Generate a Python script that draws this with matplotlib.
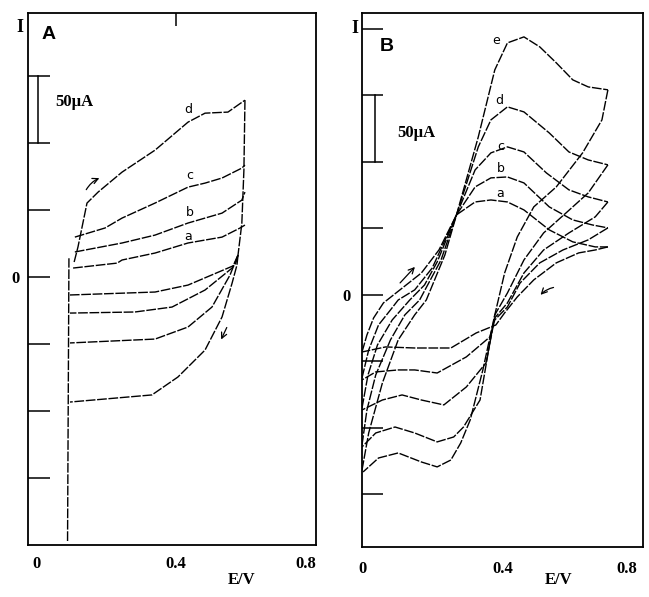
import matplotlib.pyplot as plt
import matplotlib.transforms as mtransforms

# ---------------- Panel A: CVs a-d (E in V, I in uA) ----------------
A_fwd_a_E = [0.104, 0.231, 0.245, 0.340, 0.435, 0.533, 0.585, 0.599]
A_fwd_a_I = [6.7, 10.4, 12.7, 17.9, 25.4, 29.8, 36.6, 38.8]
A_fwd_b_E = [0.109, 0.245, 0.340, 0.435, 0.533, 0.590, 0.599]
A_fwd_b_I = [18.7, 25.4, 31.3, 40.3, 47.7, 57.4, 63.4]
A_fwd_c_E = [0.109, 0.196, 0.245, 0.340, 0.435, 0.484, 0.533, 0.590, 0.599]
A_fwd_c_I = [29.8, 36.6, 44.0, 55.2, 67.1, 70.1, 73.9, 81.3, 83.6]
A_fwd_d_E = [0.107, 0.118, 0.144, 0.176, 0.245, 0.340, 0.435, 0.484, 0.550, 0.599]
A_fwd_d_I = [11.2, 22.4, 55.2, 63.4, 78.3, 94.7, 115.6, 122.3, 123.1, 132.0]

A_rev_a_E = [0.579, 0.571, 0.435, 0.340, 0.095]
A_rev_a_I = [16.4, 9.0, -6.0, -11.2, -13.4]
A_rev_b_E = [0.579, 0.562, 0.484, 0.389, 0.282, 0.095]
A_rev_b_I = [16.4, 6.7, -9.7, -22.4, -26.1, -26.9]
A_rev_c_E = [0.579, 0.556, 0.504, 0.435, 0.340, 0.095]
A_rev_c_I = [16.4, 1.5, -22.4, -37.3, -46.3, -49.2]
A_rev_d_E = [0.579, 0.576, 0.562, 0.533, 0.484, 0.406, 0.331, 0.095]
A_rev_d_I = [16.4, 9.0, -4.5, -29.8, -54.5, -74.6, -88.0, -93.3]

A_left_E = [0.088, 0.092]
A_left_I = [-197, 14]
A_right_E = [0.599, 0.596, 0.590, 0.579]
A_right_I = [132, 80, 40, 16.4]

A_labels = ['a', 'b', 'c', 'd']
A_label_E = [0.435, 0.441, 0.441, 0.435]
A_label_I = [30.6, 48.5, 76.1, 125.3]

# ---------------- Panel B: CVs a-e ----------------
B_fwd_a_E = [0, 0.014, 0.033, 0.061, 0.108, 0.169, 0.219, 0.269, 0.322, 0.367, 0.414, 0.461, 0.533, 0.600, 0.664, 0.700]
B_fwd_a_I = [-42.9, -30.1, -17.3, -6.0, 3.8, 16.5, 33.8, 60.2, 69.9, 71.4, 69.9, 63.9, 48.9, 39.9, 36.1, 36.1]
B_fwd_b_E = [0, 0.019, 0.047, 0.081, 0.103, 0.150, 0.200, 0.269, 0.322, 0.367, 0.414, 0.461, 0.533, 0.600, 0.656, 0.700]
B_fwd_b_I = [-62.4, -41.4, -22.6, -11.3, -3.8, 3.8, 20.3, 60.2, 81.2, 88.0, 88.7, 84.2, 66.2, 56.4, 52.6, 50.4]
B_fwd_c_E = [0, 0.017, 0.044, 0.086, 0.136, 0.178, 0.214, 0.269, 0.322, 0.367, 0.414, 0.461, 0.525, 0.589, 0.644, 0.700]
B_fwd_c_I = [-85.0, -60.2, -37.6, -18.8, -3.8, 7.5, 24.8, 60.2, 94.0, 106.8, 111.3, 107.5, 91.7, 79.0, 73.7, 69.9]
B_fwd_d_E = [0, 0.014, 0.039, 0.081, 0.122, 0.164, 0.225, 0.269, 0.331, 0.367, 0.414, 0.461, 0.533, 0.589, 0.644, 0.700]
B_fwd_d_I = [-112.8, -86.5, -60.2, -33.8, -15.0, -3.8, 26.3, 60.2, 111.3, 131.6, 141.4, 137.6, 121.8, 107.5, 101.5, 97.8]
B_fwd_e_E = [0, 0.019, 0.058, 0.103, 0.150, 0.183, 0.236, 0.269, 0.331, 0.378, 0.414, 0.461, 0.506, 0.553, 0.600, 0.644, 0.700]
B_fwd_e_I = [-131.6, -103.8, -66.2, -33.8, -15.0, -3.8, 30.1, 60.2, 118.8, 169.2, 189.5, 194.0, 186.5, 174.5, 161.7, 156.4, 154.2]

B_rev_a_E = [0.700, 0.664, 0.617, 0.553, 0.489, 0.442, 0.406, 0.381, 0.325, 0.253, 0.150, 0.067, 0]
B_rev_a_I = [36.1, 33.8, 31.6, 24.1, 11.3, -1.5, -13.5, -22.6, -28.6, -39.9, -39.9, -39.1, -42.9]
B_rev_b_E = [0.700, 0.644, 0.572, 0.506, 0.450, 0.414, 0.378, 0.364, 0.297, 0.214, 0.150, 0.103, 0.039, 0]
B_rev_b_I = [50.4, 41.4, 33.8, 24.1, 9.0, -9.0, -18.8, -31.6, -46.6, -58.7, -56.4, -56.4, -57.9, -63.9]
B_rev_c_E = [0.700, 0.664, 0.589, 0.517, 0.461, 0.414, 0.378, 0.353, 0.297, 0.233, 0.169, 0.114, 0.058, 0]
B_rev_c_I = [69.9, 58.7, 46.6, 33.8, 16.5, -6.0, -17.3, -51.1, -69.2, -82.7, -79.0, -75.2, -79.0, -86.5]
B_rev_d_E = [0.700, 0.644, 0.581, 0.517, 0.461, 0.414, 0.378, 0.358, 0.336, 0.289, 0.261, 0.214, 0.150, 0.094, 0.039, 0]
B_rev_d_I = [97.8, 76.7, 61.7, 46.6, 26.3, 1.5, -15.0, -45.1, -79.0, -99.3, -106.8, -110.5, -103.8, -99.3, -103.8, -114.3]
B_rev_e_E = [0.700, 0.683, 0.628, 0.553, 0.489, 0.442, 0.406, 0.378, 0.344, 0.308, 0.281, 0.253, 0.214, 0.169, 0.103, 0.047, 0.003]
B_rev_e_I = [154.2, 131.6, 106.8, 81.2, 66.2, 43.6, 16.5, -15.0, -56.4, -94.0, -111.3, -124.1, -129.3, -125.6, -118.8, -122.6, -133.1]

B_labels = ['a', 'b', 'c', 'd', 'e']
B_label_E = [0.394, 0.394, 0.394, 0.392, 0.383]
B_label_I = [76.0, 94.8, 111.3, 145.9, 191.0]

x_ticklabels = ['0', '0.4', '0.8']
x_tickvals = [0, 0.4, 0.8]

serif = 'Liberation Serif'
line_kw = dict(color='black', lw=1.0, ls=(0, (7, 1.2)))

fig = plt.figure(figsize=(6.49, 5.97), dpi=100)
axA = fig.add_axes([0.0431, 0.0871, 0.444, 0.891])
axB = fig.add_axes([0.5578, 0.0838, 0.433, 0.8945])


def style_ticklabels(ax, last_shift_px):
    for lbl in ax.get_xticklabels() + ax.get_yticklabels():
        lbl.set_fontfamily(serif)
        lbl.set_fontweight('bold')
    last = ax.get_xticklabels()[-1]
    last.set_horizontalalignment('right')
    off = mtransforms.ScaledTranslation(last_shift_px / 100, 0, fig.dpi_scale_trans)
    last.set_transform(last.get_transform() + off)


# ---------- Panel A ----------
for E, I in [(A_fwd_a_E, A_fwd_a_I), (A_fwd_b_E, A_fwd_b_I), (A_fwd_c_E, A_fwd_c_I),
             (A_fwd_d_E, A_fwd_d_I), (A_rev_a_E, A_rev_a_I), (A_rev_b_E, A_rev_b_I),
             (A_rev_c_E, A_rev_c_I), (A_rev_d_E, A_rev_d_I), (A_left_E, A_left_I),
             (A_right_E, A_right_I)]:
    axA.plot(E, I, **line_kw)
for lab, e, i in zip(A_labels, A_label_E, A_label_I):
    axA.text(e, i, lab, fontsize=9, ha='center', va='center')

axA.set_xlim(-0.026, 0.804)
axA.set_ylim(-200, 197)
axA.set_yticks([150, 100, 50, 0, -50, -100, -150])
axA.set_yticklabels(['', '', '', '0', '', '', ''])
axA.tick_params(axis='y', direction='in', length=16, width=1.1, pad=6,
                labelsize=12)
axA.set_xticks(x_tickvals)
axA.set_xticklabels(x_ticklabels)
axA.tick_params(axis='x', length=0, pad=8, labelsize=12)
axA.set_xticks([0.4], minor=True)
axA.tick_params(axis='x', which='minor', direction='in', length=16, width=1.1)
style_ticklabels(axA, 1)
secA = axA.secondary_xaxis('top')
secA.set_xticks([0.4])
secA.set_xticklabels([])
secA.tick_params(direction='in', length=9, width=1.1)
secA.spines['top'].set_visible(False)

axA.plot([0.003, 0.003], [100, 150], color='black', lw=1.1)
axA.text(0.052, 131, '50\u00b5A', fontsize=12, fontweight='bold', family=serif,
         va='center')
axA.text(0.014, 181, 'A', fontsize=14, fontweight='bold', family='Liberation Sans',
         va='center')
axA.text(-0.04, 186, 'I', fontsize=13, fontweight='bold', family=serif,
         va='center', ha='right')
axA.annotate('', xy=(0.187, 74.6), xytext=(0.138, 63.4),
             arrowprops=dict(arrowstyle='->', lw=0.9, connectionstyle='arc3,rad=-0.2'))
axA.annotate('', xy=(0.527, -48.5), xytext=(0.550, -35.8),
             arrowprops=dict(arrowstyle='->', lw=0.9))
axA.text(0.59, -220, 'E/V', fontsize=12, fontweight='bold', family=serif,
         ha='center', va='top')

# ---------- Panel B ----------
for E, I in [(B_fwd_a_E, B_fwd_a_I), (B_fwd_b_E, B_fwd_b_I), (B_fwd_c_E, B_fwd_c_I),
             (B_fwd_d_E, B_fwd_d_I), (B_fwd_e_E, B_fwd_e_I), (B_rev_a_E, B_rev_a_I),
             (B_rev_b_E, B_rev_b_I), (B_rev_c_E, B_rev_c_I), (B_rev_d_E, B_rev_d_I),
             (B_rev_e_E, B_rev_e_I)]:
    axB.plot(E, I, **line_kw)
for lab, e, i in zip(B_labels, B_label_E, B_label_I):
    axB.text(e, i, lab, fontsize=9, ha='center', va='center')

axB.set_xlim(0, 0.783)
axB.set_ylim(-189.5, 212)
axB.set_yticks([200, 150, 100, 50, 0, -50, -100, -150])
axB.set_yticklabels(['', '', '', '', '0', '', '', ''])
axB.tick_params(axis='y', direction='in', length=15, width=1.1, pad=8,
                labelsize=12)
axB.set_xticks(x_tickvals)
axB.set_xticklabels(x_ticklabels)
axB.tick_params(axis='x', length=0, pad=10, labelsize=12)
axB.set_xticks([0.4], minor=True)
axB.tick_params(axis='x', which='minor', direction='in', length=9, width=1.1)
style_ticklabels(axB, -6)

axB.plot([0.036, 0.036], [100, 150], color='black', lw=1.1)
axB.text(0.10, 122, '50\u00b5A', fontsize=12, fontweight='bold', family=serif,
         va='center')
axB.text(0.05, 187, 'B', fontsize=14, fontweight='bold', family='Liberation Sans',
         va='center')
axB.text(-0.01, 200, 'I', fontsize=13, fontweight='bold', family=serif,
         va='center', ha='right')
axB.annotate('', xy=(0.156, 22.6), xytext=(0.103, 7.5),
             arrowprops=dict(arrowstyle='->', lw=0.9))
axB.annotate('', xy=(0.503, -1.5), xytext=(0.553, 6.0),
             arrowprops=dict(arrowstyle='->', lw=0.9, connectionstyle='arc3,rad=0.2'))
axB.text(0.56, -208, 'E/V', fontsize=12, fontweight='bold', family=serif,
         ha='center', va='top')

for ax in (axA, axB):
    for s in ax.spines.values():
        s.set_linewidth(1.3)

fig.savefig('out.png', dpi=100)
